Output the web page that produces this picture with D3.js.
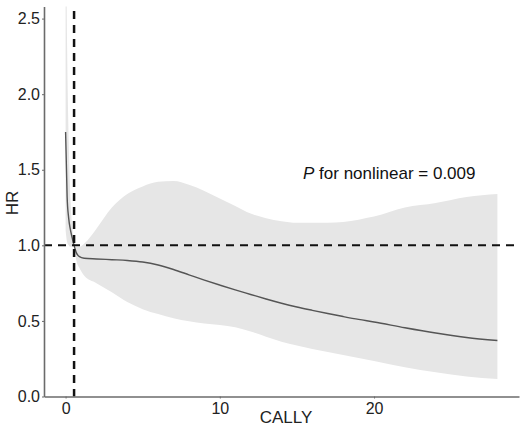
<!DOCTYPE html>
<html>
<head>
<meta charset="utf-8">
<script src="https://cdn.jsdelivr.net/npm/d3@7"></script>
<style>
  body { margin: 0; background: #fff; }
  text { font-family: "Liberation Sans", Arial, sans-serif; }
</style>
</head>
<body>
<div class="chart"></div>
<script>
// RCS curve: CALLY vs HR
var cally = [0, 0.1, 0.2, 0.3, 0.45, 0.55, 0.7, 0.9, 1.2, 2, 3, 4, 5, 6, 7, 8, 9, 10, 11, 12, 13, 14, 15, 16, 17, 18, 19, 20, 22, 24, 26, 28];
var hr    = [1.75, 1.32, 1.18, 1.11, 1.04, 1.0, 0.95, 0.925, 0.915, 0.91, 0.905, 0.90, 0.89, 0.87, 0.84, 0.805, 0.77, 0.737, 0.705, 0.675, 0.645, 0.617, 0.592, 0.57, 0.549, 0.529, 0.51, 0.493, 0.455, 0.42, 0.39, 0.37];
var upper = [3.5, 2.3, 1.7, 1.35, 1.1, 1.0, 0.99, 0.99, 1.01, 1.11, 1.25, 1.34, 1.39, 1.42, 1.425, 1.40, 1.36, 1.31, 1.26, 1.21, 1.18, 1.16, 1.15, 1.15, 1.15, 1.155, 1.17, 1.19, 1.25, 1.28, 1.32, 1.34];
var lower = [1.1, 1.02, 1.0, 0.99, 0.99, 1.0, 0.9, 0.85, 0.8, 0.75, 0.69, 0.625, 0.578, 0.545, 0.517, 0.497, 0.483, 0.473, 0.458, 0.43, 0.396, 0.363, 0.337, 0.315, 0.295, 0.275, 0.255, 0.235, 0.193, 0.16, 0.132, 0.115];

var xTicks = [0, 10, 20];
var yTicks = [0, 0.5, 1.0, 1.5, 2.0, 2.5];
var refX = 0.55;   // CALLY where HR = 1
var refY = 1.0;

var svgWidth = 523;
var svgHeight = 432;

var svg = d3.select(".chart")
  .append("svg")
  .attr("width", svgWidth)
  .attr("height", svgHeight);

var data = cally.map(function (c, i) {
  return { x: c, hr: hr[i], lo: lower[i], hi: upper[i] };
});

var x = d3.scaleLinear().domain([-1.4, 29.4]).range([44, 519]);
var y = d3.scaleLinear().domain([0, 2.58]).range([396.5, 6.5]);

svg.append("clipPath")
  .attr("id", "panel")
  .append("rect")
  .attr("x", 44).attr("y", 6.5)
  .attr("width", 475).attr("height", 390);

var panel = svg.append("g").attr("clip-path", "url(#panel)");

// confidence band
panel.append("path")
  .datum(data)
  .attr("fill", "#e6e6e6")
  .attr("d", d3.area()
    .curve(d3.curveMonotoneX)
    .x(d => x(d.x))
    .y0(d => y(d.lo))
    .y1(d => y(d.hi)));

// HR curve
panel.append("path")
  .datum(data)
  .attr("fill", "none")
  .attr("stroke", "#555")
  .attr("stroke-width", 1.4)
  .attr("d", d3.line()
    .curve(d3.curveMonotoneX)
    .x(d => x(d.x))
    .y(d => y(d.hr)));

// reference lines
svg.append("line")
  .attr("x1", x(-1.4)).attr("x2", x(29.4))
  .attr("y1", y(refY)).attr("y2", y(refY))
  .attr("stroke", "#111")
  .attr("stroke-width", 2)
  .attr("stroke-dasharray", "8,6");

svg.append("line")
  .attr("x1", x(refX)).attr("x2", x(refX))
  .attr("y1", y(2.55)).attr("y2", y(0))
  .attr("stroke", "#111")
  .attr("stroke-width", 2.5)
  .attr("stroke-dasharray", "8,6");

// axes
var bottomAxis = d3.axisBottom(x).tickValues(xTicks).tickSize(2).tickSizeOuter(0).tickPadding(4);
var leftAxis = d3.axisLeft(y).tickValues(yTicks).tickFormat(d3.format(".1f")).tickSize(2).tickSizeOuter(0).tickPadding(2);

var gx = svg.append("g")
  .attr("transform", `translate(0, ${y(0)})`)
  .call(bottomAxis);

var gy = svg.append("g")
  .attr("transform", `translate(${x(-1.4)}, 0)`)
  .call(leftAxis);

[gx, gy].forEach(function (g) {
  g.select(".domain").attr("stroke", "#6b6b6b").attr("stroke-width", 1.6);
  g.selectAll(".tick line").attr("stroke", "#6b6b6b");
  g.selectAll(".tick text")
    .attr("fill", "#222")
    .style("font-size", "16px")
    .style("font-family", "'Liberation Sans', Arial, sans-serif");
});

// axis titles
svg.append("text")
  .attr("transform", "translate(18, 203) rotate(-90)")
  .attr("text-anchor", "middle")
  .attr("fill", "#222")
  .style("font-size", "17px")
  .text("HR");

svg.append("text")
  .attr("x", 286)
  .attr("y", 423)
  .attr("text-anchor", "middle")
  .attr("fill", "#222")
  .style("font-size", "17px")
  .text("CALLY");

// annotation
var note = svg.append("text")
  .attr("x", 303)
  .attr("y", 179)
  .attr("fill", "#111")
  .style("font-size", "17px");
note.append("tspan").style("font-style", "italic").text("P");
note.append("tspan").text(" for nonlinear = 0.009");
</script>
</body>
</html>
